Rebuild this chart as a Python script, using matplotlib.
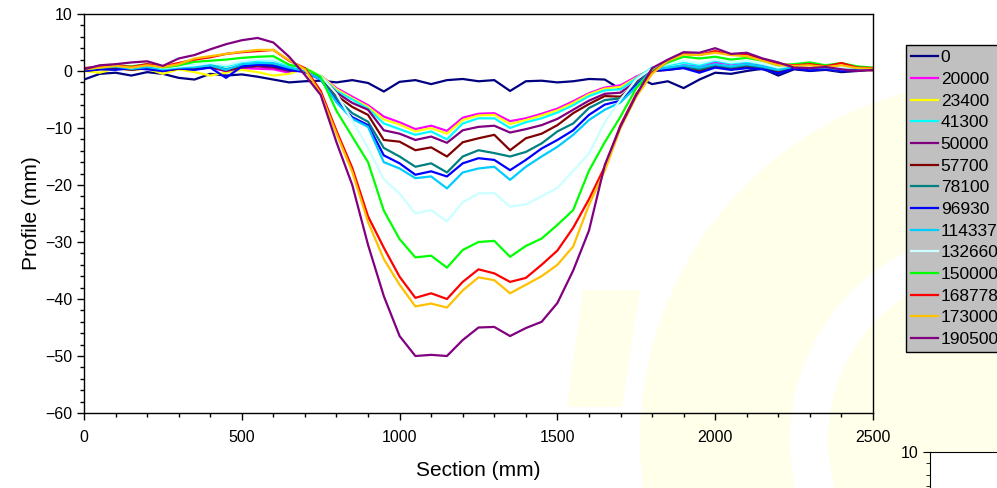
import matplotlib
matplotlib.use("Agg")
import matplotlib.pyplot as plt
from matplotlib.patches import Wedge, Polygon, Circle
from matplotlib.ticker import MultipleLocator

plt.rcParams['font.family'] = ['Liberation Sans', 'DejaVu Sans']

# Section positions (mm)
section = list(range(0, 2501, 50))

labels = ["0", "20000", "23400", "41300", "50000", "57700", "78100", "96930",
          "114337", "132660", "150000", "168778", "173000", "190500"]
colors = ["#000080", "#FF00FF", "#FFFF00", "#00FFFF", "#800080", "#800000",
          "#008080", "#0000FF", "#00CCFF", "#CCFFFF", "#00FF00", "#FF0000",
          "#FFC000", "#800080"]

p_0 = [-1.5, -0.5, -0.3, -0.8, -0.2, -0.5, -1.2, -1.5, -0.5, -0.8, -0.6, -1.0, -1.5, -2.0, -1.8,
       -1.7, -2.0, -1.6, -2.1, -3.6, -1.9, -1.6, -2.3, -1.6, -1.4, -1.8, -1.6, -3.5, -1.8, -1.7,
       -2.0, -1.8, -1.4, -1.5, -3.2, -1.0, -2.3, -1.8, -3.0, -1.5, -0.3, -0.5, 0.0, 0.4, -0.8,
       0.3, 0.0, 0.2, -0.2, 0.0, 0.3]
p_20000 = [0.3, 0.5, 0.8, 0.3, 0.6, 0.2, 0.5, 0.4, 0.6, 0.0, 0.5, 0.4, 0.3, -0.3, 0.3,
           -0.8, -3.0, -4.5, -6.0, -8.0, -9.0, -10.2, -9.6, -10.5, -8.2, -7.5, -7.4, -8.8, -8.3, -7.5,
           -6.6, -5.3, -3.9, -2.9, -2.5, -1.0, 0.3, 0.5, 1.0, 0.8, 1.5, 1.2, 1.4, 1.0, 0.4,
           0.8, 0.6, 0.5, 0.3, 0.4, 0.3]
p_23400 = [0.0, -0.3, 0.5, 0.2, 0.4, -0.5, 0.3, -0.2, -0.8, -0.3, 0.2, -0.2, -0.8, -0.5, 0.5,
           -0.8, -3.2, -4.8, -6.3, -8.5, -9.4, -10.6, -10.0, -11.0, -8.6, -7.8, -7.7, -9.3, -8.6, -7.8,
           -6.9, -5.6, -4.1, -3.1, -2.8, -1.2, 0.5, 0.3, 0.8, 0.0, 1.0, 0.5, 0.9, 0.3, -0.3,
           0.5, 0.2, 0.4, 0.0, 0.3, 0.2]
p_41300 = [0.5, 0.8, 1.0, 0.6, 1.0, 0.5, 0.8, 1.0, 1.3, 0.8, 1.6, 1.8, 1.9, 1.0, 0.3,
           -1.0, -3.5, -5.0, -6.6, -9.2, -10.2, -11.2, -10.6, -12.0, -9.2, -8.3, -8.3, -10.0, -9.0, -8.3,
           -7.3, -6.0, -4.4, -3.4, -3.2, -1.3, 0.6, 1.0, 1.5, 1.0, 1.8, 1.3, 1.6, 1.2, 0.5,
           1.0, 0.7, 0.8, 0.4, 0.6, 0.4]
p_50000 = [0.2, 0.4, 0.6, 0.3, 0.5, 0.0, 0.4, 0.3, 0.7, 0.0, 0.6, 0.8, 0.6, 0.0, 0.2,
           -1.0, -3.8, -5.6, -6.8, -10.4, -11.0, -12.1, -11.5, -12.6, -10.4, -9.8, -9.6, -10.8, -10.2, -9.5,
           -8.4, -6.8, -5.2, -4.0, -3.8, -1.8, 0.3, 0.4, 0.8, 0.2, 1.0, 0.6, 0.9, 0.5, 0.0,
           0.6, 0.3, 0.5, 0.1, 0.3, 0.2]
p_57700 = [0.0, 0.3, 0.5, 0.2, 0.5, 0.1, 0.4, 0.5, 0.8, 0.2, 0.8, 1.0, 0.8, 0.3, 0.0,
           -1.3, -4.3, -6.3, -7.7, -12.1, -12.4, -13.9, -13.4, -15.0, -12.5, -11.8, -11.2, -13.9, -11.8, -11.0,
           -9.5, -7.4, -5.8, -4.4, -4.5, -2.2, 0.0, 0.2, 0.6, 0.0, 0.8, 0.4, 0.7, 0.4, -0.2,
           0.5, 0.2, 0.4, 0.0, 0.2, 0.1]
p_78100 = [0.2, 0.5, 0.7, 0.3, 0.7, 0.2, 0.5, 0.6, 1.0, 0.3, 1.0, 1.1, 1.0, 0.5, 0.0,
           -1.4, -4.8, -7.4, -8.9, -13.5, -15.0, -16.8, -16.2, -17.8, -15.0, -13.9, -14.4, -15.0, -14.2, -12.7,
           -10.6, -9.2, -6.5, -5.1, -4.8, -2.3, 0.2, 0.4, 0.8, 0.3, 1.0, 0.6, 1.0, 0.6, 0.1,
           0.7, 0.4, 0.5, 0.2, 0.4, 0.3]
p_96930 = [0.0, 0.3, 0.2, 0.5, 0.3, 0.0, 0.5, 0.2, 0.6, -1.2, 0.8, 1.1, 0.9, 0.2, -0.2,
           -1.5, -5.3, -8.1, -9.5, -14.8, -16.2, -18.2, -17.6, -18.5, -16.2, -15.3, -15.6, -17.4, -15.6, -13.6,
           -12.1, -10.4, -7.7, -5.9, -5.2, -2.5, 0.0, 0.2, 0.5, -0.3, 0.6, 0.2, 0.5, 0.3, -0.4,
           0.4, 0.1, 0.3, 0.0, 0.2, 0.2]
p_114337 = [0.3, 0.6, 0.8, 0.4, 0.7, 0.3, 0.6, 0.7, 1.0, 0.2, 1.2, 1.4, 1.4, 0.6, 0.0,
            -1.5, -5.5, -8.4, -9.8, -16.0, -17.1, -18.8, -18.5, -20.6, -17.8, -17.1, -16.8, -19.1, -16.8, -15.0,
            -13.3, -11.2, -8.6, -6.8, -5.5, -2.8, 0.2, 0.6, 1.0, 0.6, 1.2, 0.8, 1.2, 0.8, 0.2,
            0.8, 0.5, 0.6, 0.3, 0.5, 0.4]
p_132660 = [0.5, 0.8, 1.0, 0.6, 1.1, 0.5, 0.8, 1.0, 1.4, 1.0, 1.7, 2.0, 2.0, 1.2, 0.3,
            -0.8, -4.0, -8.7, -13.5, -19.0, -21.5, -25.0, -24.4, -26.4, -23.0, -21.5, -21.4, -23.8, -23.4, -22.0,
            -20.5, -17.5, -14.5, -9.0, -5.0, -1.5, 0.5, 1.2, 1.8, 1.3, 2.0, 1.5, 1.8, 1.3, 0.6,
            1.1, 0.8, 0.9, 0.5, 0.7, 0.5]
p_150000 = [0.3, 0.6, 1.0, 0.8, 1.2, 0.6, 1.0, 1.6, 1.8, 2.0, 2.3, 2.5, 2.6, 1.1, 0.5,
            -1.0, -7.0, -11.5, -16.0, -24.5, -29.5, -32.7, -32.4, -34.5, -31.4, -30.0, -29.8, -32.6, -30.7, -29.4,
            -27.0, -24.4, -17.5, -12.5, -8.0, -3.0, 0.0, 1.5, 2.5, 2.2, 2.5, 2.0, 2.3, 1.8, 1.0,
            1.2, 1.5, 1.0, 1.4, 0.8, 0.6]
p_168778 = [0.5, 0.8, 1.0, 0.7, 1.2, 0.8, 1.4, 2.0, 2.4, 3.0, 3.3, 3.5, 3.7, 1.8, 0.5,
            -3.5, -10.5, -17.0, -25.5, -31.0, -36.1, -39.8, -39.0, -40.0, -37.0, -34.8, -35.5, -37.0, -36.3, -34.0,
            -31.5, -27.5, -22.5, -16.8, -9.5, -4.0, -0.3, 1.8, 3.0, 2.8, 3.5, 2.8, 3.0, 2.0, 1.2,
            1.0, 1.2, 0.8, 1.4, 0.6, 0.5]
p_173000 = [0.3, 0.6, 0.9, 0.6, 1.0, 0.7, 1.2, 2.2, 2.6, 3.0, 3.4, 3.7, 3.7, 1.9, 0.3,
            -4.0, -11.0, -17.7, -26.5, -33.0, -37.5, -41.3, -40.8, -41.5, -38.5, -36.2, -36.7, -39.0, -37.5, -36.0,
            -34.0, -30.8, -23.5, -17.5, -10.0, -4.5, -0.5, 1.8, 2.9, 2.8, 3.2, 2.8, 2.6, 1.8, 1.0,
            0.9, 1.0, 0.7, 1.0, 0.5, 0.4]
p_190500 = [0.3, 1.0, 1.2, 1.5, 1.7, 0.9, 2.2, 2.8, 3.8, 4.7, 5.4, 5.8, 5.0, 2.5, -0.7,
            -4.2, -12.5, -20.0, -30.5, -39.5, -46.5, -50.0, -49.8, -50.0, -47.2, -45.0, -44.9, -46.5, -45.1, -44.0,
            -40.7, -35.0, -28.0, -16.5, -9.7, -4.2, 0.5, 2.0, 3.3, 3.2, 4.0, 3.0, 3.2, 2.2, 1.5,
            0.6, 0.5, 0.7, 0.3, 0.0, 0.2]

profiles = [p_0, p_20000, p_23400, p_41300, p_50000, p_57700, p_78100, p_96930,
            p_114337, p_132660, p_150000, p_168778, p_173000, p_190500]

W, H = 997, 488
fig = plt.figure(figsize=(W / 100, H / 100), dpi=100)


def px(x, y):
    """pixel (top-left origin) -> inches for fig.dpi_scale_trans"""
    return (x / 100.0, (H - y) / 100.0)


# faint watermark in background
wm = "#FFFFEA"
tr = fig.dpi_scale_trans
fig.patches.append(Wedge(px(1000, 440), 3.6, 0, 360, width=3.6 - 2.1, transform=tr,
                         facecolor=wm, edgecolor='none', zorder=-5))
fig.patches.append(Circle(px(1000, 440), 1.72, transform=tr,
                          facecolor=wm, edgecolor='none', zorder=-5))
fig.patches.append(Polygon([px(567, 407), px(583, 290), px(640, 290), px(622, 407)],
                           closed=True, transform=tr, facecolor=wm, edgecolor='none', zorder=-5))

ax = fig.add_axes([84 / W, 75 / H, (873 - 84) / W, (413 - 14) / H])
ax.patch.set_alpha(0)

for lab, col, prof in zip(labels, colors, profiles):
    ax.plot(section, prof, color=col, lw=1.6, label=lab)

ax.set_xlim(0, 2500)
ax.set_ylim(-60, 10)
ax.xaxis.set_major_locator(MultipleLocator(500))
ax.xaxis.set_minor_locator(MultipleLocator(100))
ax.yaxis.set_major_locator(MultipleLocator(10))
ax.yaxis.set_minor_locator(MultipleLocator(2))
ax.tick_params(axis='both', which='major', direction='out', length=5, width=1,
               labelsize=11.5, colors='black')
ax.tick_params(axis='both', which='minor', direction='out', length=3, width=1)
ax.tick_params(axis='x', which='major', pad=7)
for s in ax.spines.values():
    s.set_color('black')
    s.set_linewidth(1)

ax.set_xlabel("Section (mm)", fontsize=15, labelpad=12)
ax.set_ylabel("Profile (mm)", fontsize=15, labelpad=3)

leg = ax.legend(loc='upper left', bbox_to_anchor=(906 / W, 1 - 45 / H),
                bbox_transform=fig.transFigure, fontsize=12.5, frameon=True,
                fancybox=False, framealpha=1, borderpad=0.3, labelspacing=0.375,
                handlelength=1.55, handletextpad=0.15, borderaxespad=0)
leg.get_frame().set_facecolor('#C0C0C0')
leg.get_frame().set_edgecolor('black')
leg.get_frame().set_linewidth(1)

# fragment of an adjacent chart in the bottom-right corner
ax2 = fig.add_axes([930 / W, 0, 100 / W, 36 / H])
ax2.set_ylim(10 - 36 / 5.7, 10)
ax2.set_xlim(0, 1)
ax2.yaxis.set_major_locator(MultipleLocator(10))
ax2.yaxis.set_minor_locator(MultipleLocator(2))
ax2.set_xticks([])
ax2.spines['right'].set_visible(False)
ax2.spines['bottom'].set_visible(False)
ax2.tick_params(axis='y', which='major', direction='out', length=5, labelsize=11.5)
ax2.tick_params(axis='y', which='minor', direction='out', length=3)

fig.savefig("out.png", dpi=100)
